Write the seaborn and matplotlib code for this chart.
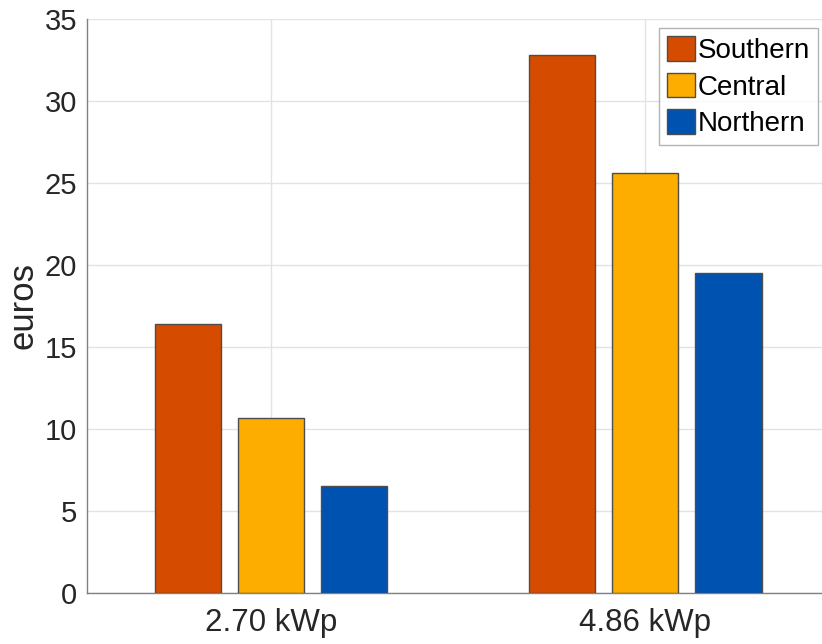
import matplotlib
matplotlib.use("Agg")
import matplotlib.pyplot as plt
import seaborn as sns
import pandas as pd

categories = ["2.70 kWp", "4.86 kWp"]
regions = ["Southern", "Central", "Northern"]
southern = [16.4, 32.8]
central = [10.7, 25.6]
northern = [6.5, 19.5]
colors = ["#D54B00", "#FDAD00", "#0052B0"]

rows = []
for reg, vals in zip(regions, [southern, central, northern]):
    for c, v in zip(categories, vals):
        rows.append({"size": c, "region": reg, "euros": v})
df = pd.DataFrame(rows)

sns.set_style("white")
plt.rcParams["font.family"] = ["Liberation Sans", "DejaVu Sans"]

fig = plt.figure(figsize=(8.22, 6.44), dpi=100)
ax = fig.add_axes([0.1058, 0.0792, 0.8942, 0.8913])

sns.barplot(data=df, x="size", y="euros", hue="region", order=categories,
            hue_order=regions, palette=colors, width=0.667, gap=0.2,
            edgecolor="#4d4d4d", linewidth=1.0, saturation=1, ax=ax, zorder=3)

ax.set_ylim(0, 35)
ax.set_xlim(-0.492, 1.473)
ax.set_yticks(range(0, 36, 5))
ax.set_xlabel("")
ax.set_ylabel("euros", fontsize=25, color="#262626", va="center")
ax.yaxis.set_label_coords(-0.087, 0.5)
ax.tick_params(axis="y", labelsize=21, colors="#262626", direction="in",
               length=5, width=0.8, pad=7)
ax.tick_params(axis="x", labelsize=22.5, colors="#262626", direction="in",
               length=5, width=0.8, pad=10.5)
ax.grid(True, color="#e3e3e3", linewidth=1.0, zorder=0)
ax.set_axisbelow(True)
for s in ["top", "right"]:
    ax.spines[s].set_visible(False)
for s in ["left", "bottom"]:
    ax.spines[s].set_color("#808080")
    ax.spines[s].set_linewidth(1.0)

leg = ax.legend(loc="upper right", bbox_to_anchor=(0.9946, 0.9843),
                fontsize=20, frameon=True, fancybox=False,
                edgecolor="#a0a0a0", handlelength=1.0, handleheight=1.0,
                handletextpad=0.1, borderpad=0.3, labelspacing=0.3,
                borderaxespad=0.0)
leg.get_frame().set_linewidth(1.0)
for t in leg.get_texts():
    t.set_color("#000000")

fig.savefig("out.png", dpi=100)
